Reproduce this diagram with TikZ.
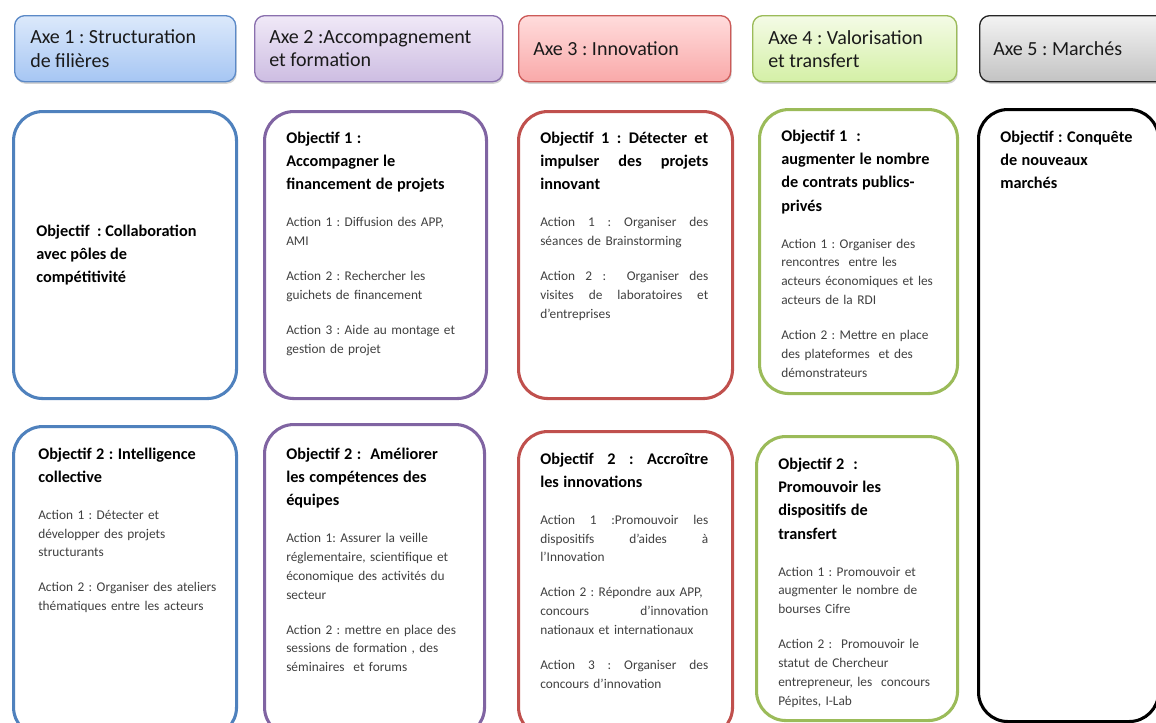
\documentclass[tikz,border=0pt]{standalone}
\usepackage{fontspec}
\setmainfont{Carlito}
\usetikzlibrary{shadows}
\setlength{\parindent}{0pt}
\frenchspacing
\definecolor{c1}{HTML}{4F81BD}
\definecolor{c2}{HTML}{8064A2}
\definecolor{c3}{HTML}{C0504D}
\definecolor{c4}{HTML}{9BBB59}
\definecolor{c5}{HTML}{000000}
\definecolor{h1t}{HTML}{DCE9FB}\definecolor{h1b}{HTML}{A6C6F3}
\definecolor{h2t}{HTML}{F0E9F7}\definecolor{h2b}{HTML}{CDBDE2}
\definecolor{h3t}{HTML}{FFDCDC}\definecolor{h3b}{HTML}{F9A9A9}
\definecolor{h4t}{HTML}{F4FBE6}\definecolor{h4b}{HTML}{D4F0A6}
\definecolor{h5t}{HTML}{F3F3F3}\definecolor{h5b}{HTML}{C3C3C3}
\definecolor{h1d}{HTML}{5B89C7}
\definecolor{h2d}{HTML}{8A70AE}
\definecolor{h3d}{HTML}{CC5A58}
\definecolor{h4d}{HTML}{9BBB59}
\definecolor{h5d}{HTML}{262626}
\definecolor{actgray}{HTML}{404040}
\definecolor{hdtext}{HTML}{1A1A1A}
\newcommand\objf{\frenchspacing\fontsize{12.2}{17.5}\selectfont\bfseries}
\newcommand\actf{\frenchspacing\fontsize{10}{14.1}\selectfont\mdseries\color{actgray}}
\newcommand\jline[1]{{\spaceskip=0pt\xspaceskip=0pt\makebox[126pt][s]{#1}}}
\newcommand\ogap{\par\vspace{13.65pt}}
\newcommand\pgap{\par\vspace{12.15pt}}
\tikzset{
  sz/.style 2 args={minimum width=#1*0.75pt, minimum height=#2*0.75pt},
  hdr/.style 2 args={draw=#1, top color=#2t, bottom color=#2b, line width=1pt,
    rounded corners=7.5pt, anchor=north west, inner sep=0pt,
    drop shadow={shadow xshift=0.8pt, shadow yshift=-1.6pt, opacity=0.35}},
  bigbox/.style={draw=#1, line width=2.3pt, fill=white, rounded corners=22pt,
    anchor=north west, inner sep=0pt},
  hdtxt/.style={anchor=west, inner sep=0pt, align=left, text=hdtext,
    font=\frenchspacing\fontsize{15}{17.3}\selectfont},
  bodytxt/.style={anchor=base west, inner sep=0pt, align=left, text width=#1*0.75pt},
}
\begin{document}
\begin{tikzpicture}[x=0.75pt, y=-0.75pt]
\useasboundingbox (0,0) rectangle (1156,722);
% headers
\node[hdr={h1d}{h1}, sz={221}{66}] (h1) at (14,15) {};
\node[hdr={h2d}{h2}, sz={248}{66}] (h2) at (254,15) {};
\node[hdr={h3d}{h3}, sz={212}{66}] (h3) at (518,15) {};
\node[hdr={h4d}{h4}, sz={204}{66}] (h4) at (752,15) {};
\node[hdr={h5d}{h5}, sz={210}{66}] (h5) at (979,15) {};
\node[hdtxt] (ht1) at ([xshift=16*0.75pt]h1.west) {Axe 1 : Structuration\\de filières};
\node[hdtxt] (ht2) at ([xshift=15*0.75pt]h2.west) {Axe 2 :Accompagnement\\et formation};
\node[hdtxt] (ht3) at ([xshift=15*0.75pt]h3.west) {Axe 3 : Innovation};
\node[hdtxt] (ht4) at ([xshift=16*0.75pt]h4.west) {Axe 4 : Valorisation\\et transfert};
\node[hdtxt] (ht5) at ([xshift=14*0.75pt]h5.west) {Axe 5 : Marchés};
% big boxes row 1
\node[bigbox=c1, sz={223}{287}] (b11) at (12,110) {};
\node[bigbox=c2, sz={222}{287}] (b21) at (263,110) {};
\node[bigbox=c3, sz={214}{287}] (b31) at (517,110) {};
\node[bigbox=c4, sz={198}{284}] (b41) at (758,108) {};
\node[bigbox=c5, sz={180}{612}] (b5) at (977,108) {};
% big boxes row 2
\node[bigbox=c1, sz={223}{310}] (b12) at (12,425) {};
\node[bigbox=c2, sz={220}{312}] (b22) at (263,423) {};
\node[bigbox=c3, sz={214}{305}] (b32) at (517,430) {};
\node[bigbox=c4, sz={201}{284}] (b42) at (755,435) {};
% texts
\node[anchor=west, inner sep=0pt, align=left, font=\objf] (t11) at ([xshift=24*0.75pt]b11.west)
  {Objectif~ : Collaboration\\avec pôles de\\compétitivité};
\node[bodytxt=210] (t21) at ([shift={(23,33)}]b21.north west)
  {\objf Objectif 1 :\\Accompagner le\\financement de projets\ogap
   \actf Action 1 : Diffusion des APP,\\AMI\pgap
   Action 2 : Rechercher les\\guichets de financement\pgap
   Action 3 : Aide au montage et\\gestion de projet\par};
\node[bodytxt=200] (t31) at ([shift={(23,33)}]b31.north west)
  {\objf \jline{Objectif 1 : Détecter et}\\\jline{impulser des projets}\\innovant\ogap
   \actf \jline{Action 1 : Organiser des}\\séances de Brainstorming\pgap
   \jline{Action 2 :~ Organiser des}\\\jline{visites de laboratoires et}\\d’entreprises\par};
\node[bodytxt=200] (t41) at ([shift={(23,33)}]b41.north west)
  {\objf Objectif 1~ :\\augmenter le nombre\\de contrats publics-\\privés\ogap
   \actf Action 1 : Organiser des\\rencontres~ entre les\\acteurs économiques et les\\acteurs de la RDI\pgap
   Action 2 : Mettre en place\\des plateformes~ et des\\démonstrateurs\par};
\node[bodytxt=170] (t5) at ([shift={(23,34)}]b5.north west)
  {\objf Objectif : Conquête\\de nouveaux\\marchés\par};
\node[bodytxt=210] (t12) at ([shift={(26,34)}]b12.north west)
  {\objf Objectif 2 : Intelligence\\collective\ogap
   \actf Action 1 : Détecter et\\développer des projets\\structurants\pgap
   Action 2 : Organiser des ateliers\\thématiques entre les acteurs\par};
\node[bodytxt=210] (t22) at ([shift={(23,36)}]b22.north west)
  {\objf Objectif 2 :~ Améliorer\\les compétences des\\équipes\ogap
   \actf Action 1: Assurer la veille\\réglementaire, scientifique et\\économique des activités du\\secteur\pgap
   Action 2 : mettre en place des\\sessions de formation , des\\séminaires~ et forums\par};
\node[bodytxt=200] (t32) at ([shift={(23,34)}]b32.north west)
  {\objf \jline{Objectif 2 : Accroître}\\les innovations\ogap
   \actf \jline{Action 1 :Promouvoir les}\\\jline{dispositifs d’aides à}\\l’Innovation\pgap
   Action 2 : Répondre aux APP,\\\jline{concours d’innovation}\\nationaux et internationaux\pgap
   \jline{Action 3 : Organiser des}\\concours d’innovation\par};
\node[bodytxt=200] (t42) at ([shift={(23,34)}]b42.north west)
  {\objf Objectif 2~ :\\Promouvoir les\\dispositifs de\\transfert\ogap
   \actf Action 1 : Promouvoir et\\augmenter le nombre de\\bourses Cifre\pgap
   Action 2 :~ Promouvoir le\\statut de Chercheur\\entrepreneur, les~ concours\\Pépites, I-Lab\par};
\end{tikzpicture}
\end{document}
